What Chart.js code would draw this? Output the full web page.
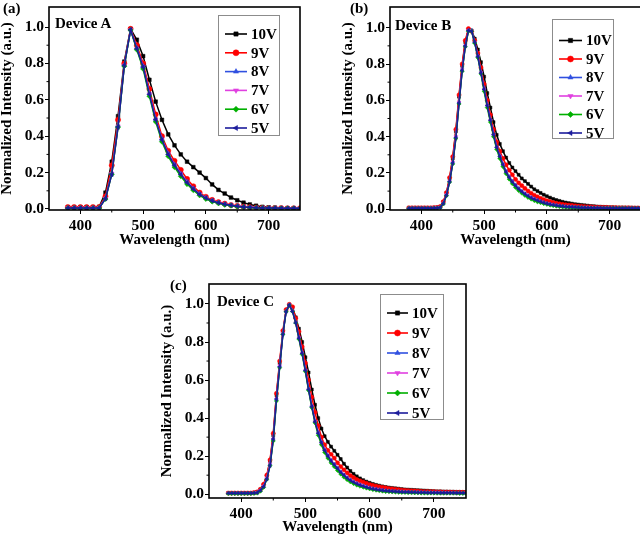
<!DOCTYPE html>
<html>
<head>
<meta charset="utf-8">
<script src="https://cdn.jsdelivr.net/npm/chart.js@4.4.0/dist/chart.umd.min.js"></script>
<style>
  body { margin: 0; width: 640px; height: 538px; overflow: hidden; background: #fff; position: relative; }
  .panel { position: absolute; }
  .tag { position: absolute; font: bold 15px/15px 'Liberation Serif', serif; color: #000; white-space: nowrap; }
</style>
</head>
<body>
<div class="panel" style="left:0;top:0;width:320px;height:250px"><canvas id="chartA"></canvas></div>
<div class="panel" style="left:341px;top:0;width:320px;height:250px"><canvas id="chartB"></canvas></div>
<div class="panel" style="left:160px;top:270px;width:320px;height:268px"><canvas id="chartC"></canvas></div>

<div class="tag" style="left:3px;top:1px">(a)</div>
<div class="tag" style="left:350px;top:1px">(b)</div>
<div class="tag" style="left:170px;top:278px">(c)</div>
<div class="tag" style="left:55px;top:16px">Device A</div>
<div class="tag" style="left:395px;top:18px">Device B</div>
<div class="tag" style="left:217px;top:294px">Device C</div>

<script>
// series names, marker look
const labels = ['10V', '9V', '8V', '7V', '6V', '5V'];
const colors = ['#000000', '#ff0000', '#3050e0', '#e040e0', '#00b000', '#1c1c9c'];
const markers = ['rect', 'circle', 'triangle', 'triangle', 'rectRot', 'triangle'];
const markerRot = [0, 0, 0, 180, 0, 270];

// axis ticks
const xTicks = [400, 500, 600, 700];
const xMinor = [450, 550, 650];
const yTicks = [0, 0.2, 0.4, 0.6, 0.8, 1.0];
const yMinor = [0.1, 0.3, 0.5, 0.7, 0.9];

// Device A (10 nm steps)
const wlA = [380,390,400,410,420,430,440,450,460,470,480,490,500,510,520,530,540,550,560,570,
             580,590,600,610,620,630,640,650,660,670,680,690,700,710,720,730,740,750];
const a10 = [.01,.01,.01,.01,.01,.012,.09,.26,.51,.81, .99,.93,.84,.71,.59,.49,.41,.35,.3,.26,
             .23,.2,.17,.135,.105,.085,.063,.048,.035,.025, .018,.012,.009,.007,.005,.004,.004,.003];
const a9  = [.01,.01,.01,.01,.01,.011,.07,.24,.49,.8, .99,.9,.8,.66,.52,.4,.32,.265,.215,.165,
             .125,.09,.067,.05,.038,.029,.022,.017,.013,.01, .008,.006,.005,.005,.005,.004,.004,.004];
const a8  = [.006,.006,.006,.006,.006,.007,.06,.2,.46,.79, .985,.885,.785,.635,.495,.385,.305,.245,.195,.15,
             .113,.083,.062,.046,.035,.027,.021,.016,.012,.009, .007,.006,.005,.005,.004,.004,.004,.004];
const a7  = [.006,.006,.006,.006,.006,.007,.058,.195,.455,.79, .985,.882,.782,.632,.492,.382,.302,.242,.192,.147,
             .111,.081,.06,.045,.034,.026,.02,.015,.011,.009, .007,.006,.005,.004,.004,.004,.004,.004];
const a6  = [.004,.004,.004,.004,.004,.005,.055,.19,.45,.785, .983,.875,.77,.62,.48,.37,.29,.23,.18,.137,
             .103,.075,.055,.041,.031,.023,.018,.013,.01,.008, .006,.005,.004,.004,.003,.003,.003,.003];
const a5  = [.005,.005,.005,.005,.005,.006,.057,.19,.45,.79, .985,.88,.78,.63,.49,.38,.3,.24,.19,.145,
             .11,.08,.06,.045,.034,.026,.02,.015,.011,.009, .007,.006,.005,.005,.004,.004,.004,.004];

// Devices B and C (5 nm steps)
const wlBC = [380,385,390,395,400,405,410,415,420,425, 430,435,440,445,450,455,460,465,470,475,
              480,485,490,495,500,505,510,515,520,525, 530,535,540,545,550,555,560,565,570,575,
              580,585,590,595,600,605,610,615,620,625, 630,635,640,645,650,655,660,665,670,675,
              680,685,690,695,700,705,710,715,720,725, 730,735,740,745,750];

const b10 = [.008,.008,.008,.008,.008,.008,.008,.008,.009,.01, .014,.04,.09,.17,.28,.43,.62,.79,.92,.99,
             .985,.94,.88,.81,.73,.64,.56,.48,.41,.36, .32,.285,.255,.23,.21,.19,.17,.155,.14,.125,
             .11,.1,.09,.08,.072,.064,.057,.051,.046,.041, .037,.034,.031,.028,.026,.024,.022,.02,.018,.017,
             .015,.014,.013,.012,.011,.011,.01,.01,.01,.009, .009,.009,.008,.008,.008];
const b9  = [.008,.008,.008,.008,.008,.008,.008,.008,.009,.01, .015,.042,.092,.175,.29,.44,.63,.8,.93,.995,
             .98,.93,.86,.78,.69,.6,.52,.44,.37,.32, .28,.245,.215,.19,.165,.145,.13,.115,.1,.088,
             .077,.068,.06,.053,.047,.042,.037,.033,.03,.027, .025,.023,.021,.019,.017,.016,.015,.014,.013,.012,
             .011,.01,.01,.01,.009,.009,.009,.008,.008,.008, .008,.007,.007,.007,.007];
const b8  = [.006,.006,.006,.006,.006,.006,.006,.006,.007,.008, .011,.034,.08,.155,.26,.4,.59,.77,.9,.985,
             .985,.92,.845,.755,.665,.575,.495,.415,.345,.295, .25,.21,.18,.155,.134,.115,.1,.087,.076,.066,
             .057,.05,.044,.038,.033,.029,.025,.022,.019,.017, .015,.014,.013,.012,.011,.01,.009,.009,.008,.008,
             .008,.007,.007,.007,.007,.006,.006,.006,.006,.006, .006,.005,.005,.005,.005];
const b7  = [.006,.006,.006,.006,.006,.006,.006,.006,.007,.008, .011,.034,.08,.155,.26,.4,.59,.77,.9,.985,
             .982,.918,.842,.752,.66,.57,.49,.41,.34,.29, .245,.206,.176,.151,.13,.112,.097,.084,.073,.063,
             .055,.048,.042,.036,.031,.027,.024,.021,.018,.016, .014,.013,.012,.011,.01,.009,.009,.008,.008,.007,
             .007,.007,.007,.007,.007,.006,.006,.006,.006,.006, .006,.005,.005,.005,.005];
const b6  = [.004,.004,.004,.004,.004,.004,.004,.004,.005,.006, .009,.03,.075,.15,.25,.39,.58,.76,.895,.98,
             .98,.915,.835,.745,.65,.56,.48,.4,.33,.28, .235,.196,.166,.141,.12,.103,.089,.076,.065,.056,
             .048,.041,.036,.031,.027,.023,.02,.017,.015,.013, .011,.01,.009,.008,.008,.007,.007,.006,.006,.006,
             .005,.005,.005,.005,.005,.005,.005,.005,.005,.005, .004,.004,.004,.004,.004];
const b5  = [.005,.005,.005,.005,.005,.005,.005,.005,.006,.007, .01,.032,.078,.153,.255,.395,.585,.765,.9,.985,
             .98,.92,.84,.75,.66,.57,.49,.41,.34,.29, .245,.205,.175,.15,.13,.112,.097,.084,.073,.063,
             .055,.048,.042,.036,.031,.027,.024,.021,.018,.016, .014,.013,.012,.011,.01,.009,.009,.008,.008,.007,
             .007,.007,.006,.006,.006,.006,.006,.005,.005,.005, .005,.005,.005,.005,.005];

const c10 = [.006,.006,.006,.006,.006,.006,.006,.006,.008,.012, .025,.05,.095,.175,.31,.52,.69,.85,.965,.995,
             .98,.93,.87,.8,.72,.64,.55,.47,.4,.345, .305,.275,.25,.228,.207,.185,.16,.14,.122,.107,
             .094,.083,.074,.066,.06,.054,.049,.045,.041,.038, .035,.033,.031,.029,.027,.025,.024,.023,.022,.021,
             .02,.019,.018,.017,.016,.015,.015,.014,.014,.013, .013,.012,.012,.011,.011];
const c9  = [.006,.006,.006,.006,.006,.006,.006,.006,.008,.012, .026,.052,.1,.18,.32,.53,.7,.86,.97,.998,
             .985,.925,.855,.775,.69,.6,.51,.43,.36,.3, .26,.23,.21,.19,.165,.145,.128,.112,.098,.087,
             .077,.07,.064,.057,.051,.046,.042,.039,.036,.033, .03,.028,.026,.024,.022,.02,.019,.018,.017,.016,
             .015,.014,.014,.013,.013,.012,.012,.011,.011,.011, .01,.01,.01,.01,.009];
const c8  = [.005,.005,.005,.005,.005,.005,.005,.005,.006,.009, .02,.042,.085,.16,.29,.5,.675,.845,.962,.995,
             .965,.905,.825,.745,.655,.555,.465,.385,.325,.275, .235,.205,.18,.158,.138,.118,.102,.087,.075,.065,
             .057,.05,.044,.039,.034,.03,.027,.024,.021,.019, .017,.016,.015,.014,.013,.012,.012,.011,.011,.01,
             .01,.009,.009,.009,.008,.008,.008,.008,.007,.007, .007,.007,.007,.006,.006];
const c7  = [.005,.005,.005,.005,.005,.005,.005,.005,.006,.009, .02,.042,.085,.16,.29,.5,.675,.845,.962,.995,
             .963,.902,.822,.742,.652,.552,.462,.382,.322,.272, .232,.202,.177,.156,.136,.116,.1,.086,.074,.064,
             .056,.049,.043,.038,.033,.029,.026,.023,.02,.018, .016,.015,.014,.013,.012,.012,.011,.011,.01,.01,
             .009,.009,.009,.008,.008,.008,.008,.007,.007,.007, .007,.006,.006,.006,.006];
const c6  = [.003,.003,.003,.003,.003,.003,.003,.003,.004,.006, .016,.036,.078,.15,.28,.49,.665,.84,.96,.993,
             .96,.9,.815,.735,.645,.545,.455,.375,.31,.26, .22,.19,.165,.145,.125,.106,.09,.076,.065,.056,
             .048,.042,.037,.032,.028,.024,.021,.018,.016,.014, .013,.012,.011,.01,.009,.009,.008,.008,.007,.007,
             .006,.006,.006,.006,.006,.005,.005,.005,.005,.005, .005,.005,.004,.004,.004];
const c5  = [.005,.005,.005,.005,.005,.005,.005,.005,.006,.008, .02,.04,.08,.15,.29,.5,.67,.84,.96,.995,
             .96,.9,.82,.74,.65,.55,.46,.38,.32,.27, .23,.2,.175,.155,.135,.115,.1,.085,.073,.063,
             .055,.048,.042,.037,.032,.028,.025,.022,.02,.018, .016,.015,.014,.013,.012,.011,.011,.01,.01,.009,
             .009,.009,.008,.008,.008,.008,.007,.007,.007,.007, .007,.006,.006,.006,.006];

const serif = 'Liberation Serif';

// box round the plot + short minor ticks
const framePlugin = {
  id: 'frame',
  afterDraw(chart) {
    const { ctx, chartArea: a, scales: { x, y } } = chart;
    ctx.save();
    ctx.strokeStyle = '#000';
    ctx.lineWidth = 1.6;
    ctx.strokeRect(a.left, a.top, a.right - a.left, a.bottom - a.top);
    ctx.lineWidth = 1;
    ctx.beginPath();
    xMinor.forEach(v => {
      const px = x.getPixelForValue(v);
      ctx.moveTo(px, a.bottom); ctx.lineTo(px, a.bottom + 2.5);
    });
    yMinor.forEach(v => {
      const py = y.getPixelForValue(v);
      ctx.moveTo(a.left, py); ctx.lineTo(a.left - 2.5, py);
    });
    ctx.stroke();
    ctx.restore();
  }
};

// legend: framed box, line + marker + label per series
const legendPlugin = {
  id: 'boxLegend',
  afterDraw(chart, args, o) {
    const ctx = chart.ctx;
    ctx.save();
    ctx.fillStyle = '#fff';
    ctx.fillRect(o.x, o.y, o.w, o.h);
    ctx.strokeStyle = '#8c8c8c';
    ctx.lineWidth = 1;
    ctx.strokeRect(o.x + 0.5, o.y + 0.5, o.w, o.h);
    chart.data.datasets.forEach((ds, i) => {
      const y = o.rowY + i * o.rowStep;
      ctx.strokeStyle = ds.borderColor;
      ctx.fillStyle = ds.borderColor;
      ctx.lineWidth = 1.6;
      ctx.beginPath();
      ctx.moveTo(o.lineX1, y); ctx.lineTo(o.lineX2, y);
      ctx.stroke();
      ctx.lineWidth = 0.5;
      Chart.helpers.drawPoint(ctx, { pointStyle: ds.pointStyle, rotation: ds.pointRotation, radius: 3, borderWidth: 0.5 },
        (o.lineX1 + o.lineX2) / 2, y);
      ctx.fillStyle = '#000';
      ctx.font = 'bold 15px "' + serif + '"';
      ctx.textBaseline = 'middle';
      ctx.fillText(ds.label, o.textX, y + 1);
    });
    ctx.restore();
  }
};

function makeChart(id, wl, rows, cfg) {
  const datasets = rows.map((vals, i) => ({
    label: labels[i],
    data: wl.map((w, j) => ({ x: w, y: vals[j] })),
    borderColor: colors[i],
    backgroundColor: colors[i],
    pointStyle: markers[i],
    pointRotation: markerRot[i],
    pointRadius: cfg.radius,
    pointBorderWidth: 0.5,
    borderWidth: 1.5,
    tension: 0,
    order: rows.length - i
  }));
  const tickFont = { family: serif, size: 15.5, weight: 'bold' };
  const titleFont = { family: serif, size: 15, weight: 'bold', lineHeight: 1 };
  return new Chart(document.getElementById(id), {
    type: 'line',
    data: { datasets },
    options: {
      responsive: true,
      maintainAspectRatio: false,
      animation: false,
      layout: { padding: cfg.pad },
      plugins: { legend: { display: false }, tooltip: { enabled: false }, boxLegend: cfg.legend },
      scales: {
        x: {
          type: 'linear', min: 350, max: 750, bounds: 'data',
          afterBuildTicks: s => { s.ticks = xTicks.map(v => ({ value: v })); },
          afterFit: s => { s.height = cfg.xh; s.paddingLeft = 0; s.paddingRight = 0; },
          ticks: { font: tickFont, color: '#000', padding: 3, maxRotation: 0, autoSkip: false, callback: v => String(v) },
          grid: { drawOnChartArea: false, tickLength: 4, color: '#000', lineWidth: 1 },
          border: { display: false },
          title: { display: true, text: 'Wavelength (nm)', font: titleFont, color: '#000', padding: { top: 0, bottom: cfg.xtPad } }
        },
        y: {
          type: 'linear', min: cfg.yMin, max: cfg.yMax, bounds: 'data',
          afterBuildTicks: s => { s.ticks = yTicks.map(v => ({ value: v })); },
          afterFit: s => { s.width = 49; s.paddingTop = 0; s.paddingBottom = 0; },
          ticks: { font: tickFont, color: '#000', padding: 1, callback: v => v.toFixed(1) },
          grid: { drawOnChartArea: false, tickLength: 4, color: '#000', lineWidth: 1 },
          border: { display: false },
          title: { display: true, text: 'Normalized Intensity (a.u.)', font: titleFont, color: '#000', padding: { top: 0, bottom: 0 } }
        }
      }
    },
    plugins: [framePlugin, legendPlugin]
  });
}

makeChart('chartA', wlA, [a10, a9, a8, a7, a6, a5], {
  pad: { left: 0, top: 7, right: 20, bottom: 0 }, xh: 40, xtPad: 2, yMin: -0.0055, yMax: 1.11, radius: 2.6,
  legend: { x: 218, y: 15, w: 61, h: 120, rowY: 34, rowStep: 18.8, lineX1: 225, lineX2: 247, textX: 251 }
});
makeChart('chartB', wlBC, [b10, b9, b8, b7, b6, b5], {
  pad: { left: 0, top: 7, right: 20, bottom: 0 }, xh: 40, xtPad: 2, yMin: -0.004, yMax: 1.114, radius: 2.1,
  legend: { x: 211, y: 19, w: 61, h: 119, rowY: 40.5, rowStep: 18.5, lineX1: 218, lineX2: 241, textX: 245 }
});
makeChart('chartC', wlBC, [c10, c9, c8, c7, c6, c5], {
  pad: { left: 0, top: 14, right: 14, bottom: 0 }, xh: 40, xtPad: 3.5, yMin: -0.02, yMax: 1.105, radius: 2.1,
  legend: { x: 220, y: 24, w: 63, h: 125, rowY: 43, rowStep: 20, lineX1: 227, lineX2: 248, textX: 252 }
});
</script>
</body>
</html>
